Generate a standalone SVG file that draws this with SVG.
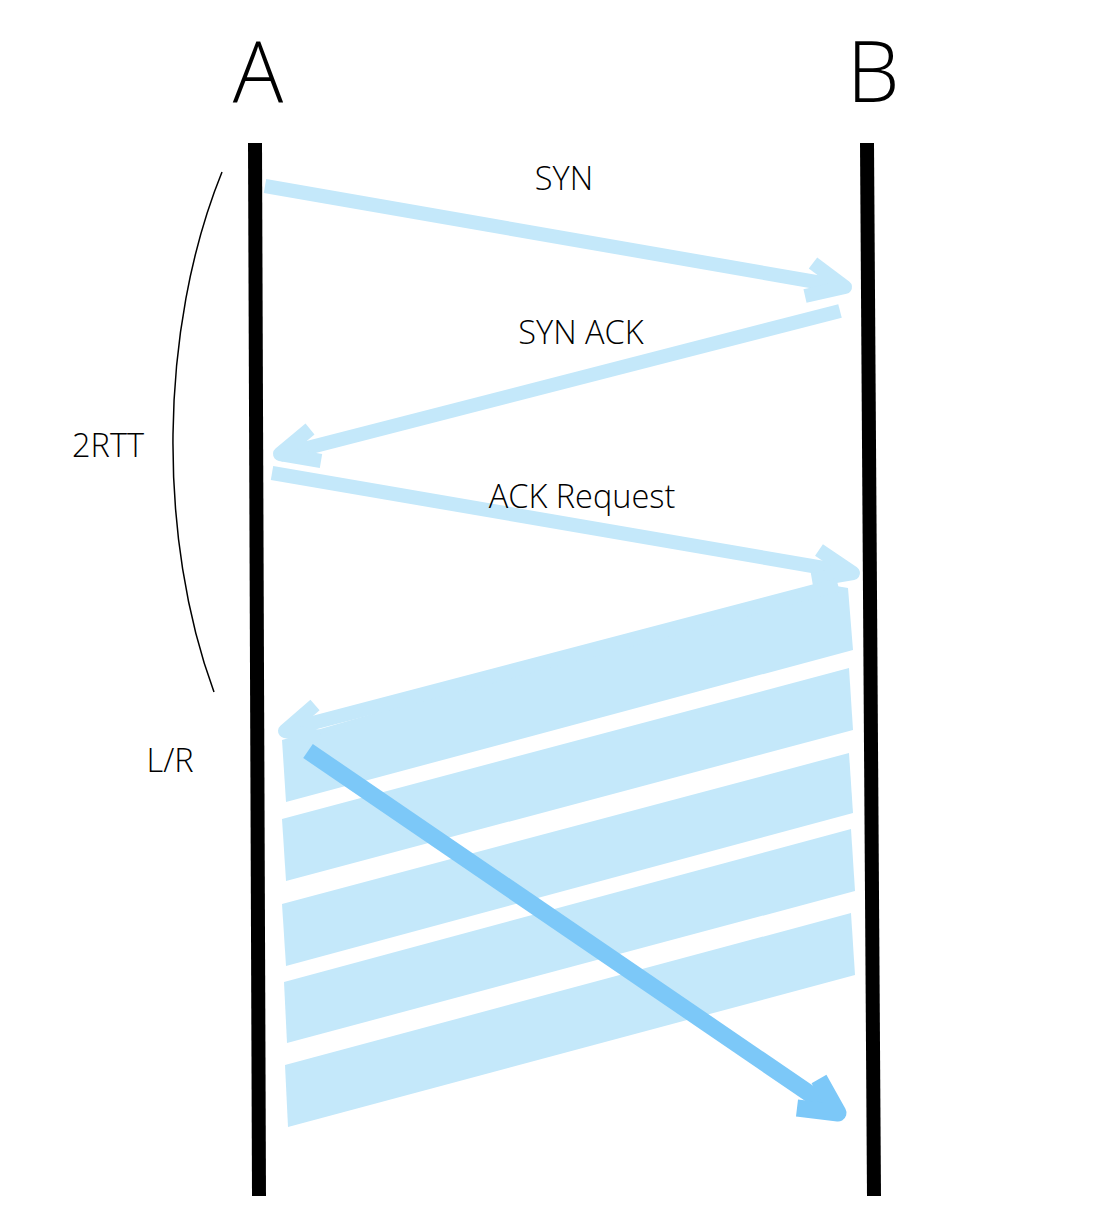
<svg xmlns="http://www.w3.org/2000/svg" width="1098" height="1226" viewBox="0 0 1098 1226">
<style>
.lbl{font-family:"Open Sans","Liberation Sans",sans-serif;font-weight:300;font-size:32.5px;fill:#000;text-anchor:middle}
.big{font-family:"Open Sans","Liberation Sans",sans-serif;font-weight:300;font-size:84px;fill:#000;text-anchor:middle}
.life{stroke:#000;stroke-width:14;fill:none}
.msg{stroke:#C4E8FA;stroke-width:14;fill:none;stroke-linejoin:round}
.band{fill:#C4E8FA}
.data{stroke:#7CC8F8;stroke-width:17;fill:none;stroke-linejoin:round}
</style>
<rect width="1098" height="1226" fill="#fff"/>
<g id="nodeA">
<text class="big" x="258" y="102">A</text>
<line class="life" x1="255" y1="143" x2="259" y2="1196"/>
</g>
<g id="nodeB">
<text class="big" x="873" y="102">B</text>
<line class="life" x1="867" y1="143" x2="874" y2="1196"/>
</g>
<g id="connectors">
<g id="syn">
<line class="msg" x1="265" y1="186" x2="845" y2="287"/>
<polyline class="msg" points="813,263 845,287 805,296"/>
</g>
<g id="synack">
<line class="msg" x1="840" y1="311" x2="280" y2="455"/>
<polyline class="msg" points="310,429 280,454 321,461"/>
</g>
<g id="ackreq">
<line class="msg" x1="272" y1="473" x2="853" y2="573"/>
<polyline class="msg" points="819,550 853,573 812,580"/>
</g>
<g id="bands">
<polygon class="band" points="282,740 286,802 853,650 848,588 836,586 836,580"/>
<line class="msg" x1="838" y1="585" x2="286" y2="730"/>
<polyline class="msg" points="315,705 285,731 320,737"/>
<polygon class="band" points="282,819 286,881 853,730 849,668"/>
<polygon class="band" points="282,904 286,966 853,813 849,753"/>
<polygon class="band" points="284,982 287,1043 855,891 851,829"/>
<polygon class="band" points="285,1065 288,1127 855,975 851,913"/>
</g>
<g id="data">
<line class="data" x1="308" y1="751" x2="838" y2="1113"/>
<polyline class="data" points="819,1079 838,1113 797,1108"/>
</g>
<path d="M222,172 C158,330 158,540 214,692" fill="none" stroke="#000" stroke-width="1.5"/>
</g>
<g id="labels">
<text class="lbl" x="564" y="190">SYN</text>
<text class="lbl" x="581" y="344">SYN ACK</text>
<text class="lbl" x="108" y="457">2RTT</text>
<text class="lbl" x="582" y="508">ACK Request</text>
<text class="lbl" x="170" y="772">L/R</text>
</g>
</svg>
